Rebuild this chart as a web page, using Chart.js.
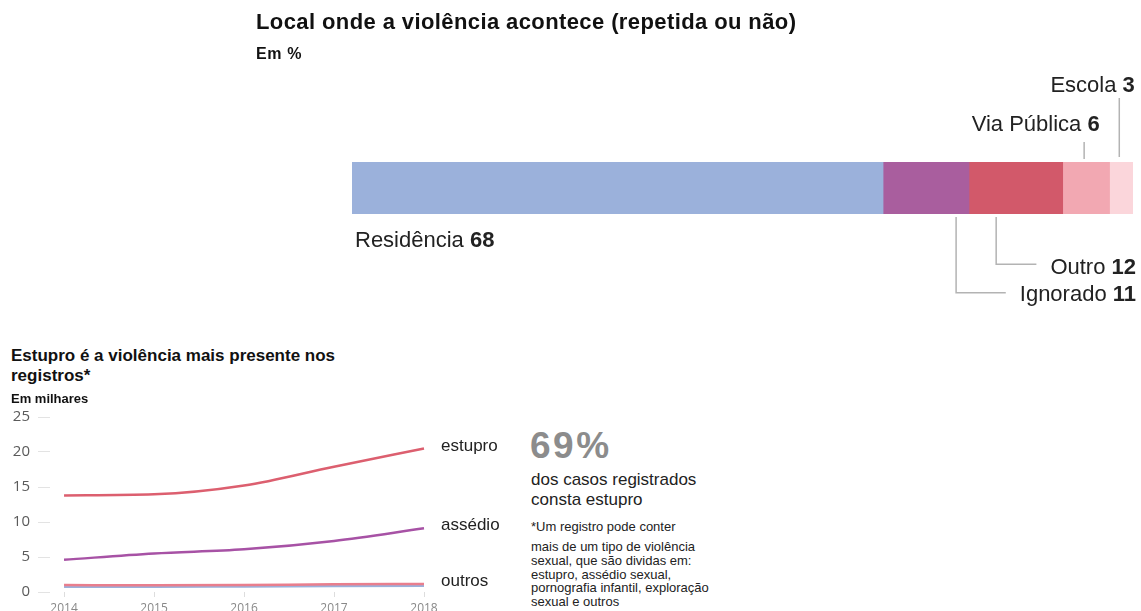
<!DOCTYPE html>
<html lang="pt-BR">
<head>
<meta charset="UTF-8">
<title>Local onde a violência acontece</title>
<style>
  body { margin: 0; width: 1141px; height: 611px; overflow: hidden; background: #fff; position: relative;
         font-family: "Liberation Sans", Arial, sans-serif; color: #222; }
  .txt { position: absolute; white-space: nowrap; }
  #titulo1 { left: 256px; top: 11px; font-size: 22px; line-height: 22px; font-weight: bold; letter-spacing: 0.4px; color: #111; }
  #sub1 { left: 256px; top: 46px; font-size: 16px; line-height: 16px; font-weight: bold; letter-spacing: 0.6px; color: #111; }
  #titulo2 { left: 11px; top: 346px; font-size: 17px; line-height: 20px; font-weight: bold; color: #111; }
  #sub2 { left: 11px; top: 392px; font-size: 13px; line-height: 13px; font-weight: bold; color: #111; }
  #destaque { left: 530px; top: 427px; font-size: 37px; line-height: 37px; font-weight: bold; letter-spacing: 2.5px; color: #8c8c8c; }
  #desc { left: 531px; top: 470px; font-size: 17px; line-height: 20px; }
  #nota1 { left: 531px; top: 520px; font-size: 13px; line-height: 13px; }
  #nota2 { left: 531px; top: 540px; font-size: 13px; line-height: 13.8px; }
  #barraBox { position: absolute; left: 0; top: 0; }
  #linhaBox { position: absolute; left: 0; top: 400px; }
</style>
</head>
<body>
<div id="barraBox"><canvas id="barraChart" width="1141" height="320"></canvas></div>
<div id="linhaBox"><canvas id="linhaChart" width="520" height="240"></canvas></div>

<div class="txt" id="titulo1">Local onde a violência acontece (repetida ou não)</div>
<div class="txt" id="sub1">Em %</div>
<div class="txt" id="titulo2">Estupro é a violência mais presente nos<br>registros*</div>
<div class="txt" id="sub2">Em milhares</div>
<div class="txt" id="destaque">69%</div>
<div class="txt" id="desc">dos casos registrados<br>consta estupro</div>
<div class="txt" id="nota1">*Um registro pode conter</div>
<div class="txt" id="nota2">mais de um tipo de violência<br>sexual, que são dividas em:<br>estupro, assédio sexual,<br>pornografia infantil, exploração<br>sexual e outros</div>

<script src="https://cdn.jsdelivr.net/npm/chart.js"></script>
<script>
  // Local onde a violência acontece (%)
  const locais = ['Residência', 'Ignorado', 'Outro', 'Via Pública', 'Escola'];
  const percentuais = [68, 11, 12, 6, 3];
  const coresLocais = ['#9bb1db', '#a95e9e', '#d2596a', '#f2a8b2', '#fbd6db'];

  // Registros por ano (milhares)
  const anos = [2014, 2015, 2016, 2017, 2018];
  const estupro = [13.8, 13.95, 15.2, 17.9, 20.5];
  const assedio = [4.6, 5.5, 6.1, 7.3, 9.1];
  const outros1 = [1.0, 0.95, 1.0, 1.1, 1.15];
  const outros2 = [0.75, 0.75, 0.8, 0.85, 0.9];
  const rotulosSeries = ['estupro', 'assédio', 'outros', ''];
  const coresSeries = ['#dc5f6f', '#a752a5', '#e97e8d', '#9bb1db'];
  const ticksY = [0, 5, 10, 15, 20, 25];

  Chart.defaults.font.family = '"Liberation Sans", Arial, sans-serif';
  Chart.defaults.animation = false;

  // rótulos e linhas de chamada da barra
  const rotulosBarra = {
    id: 'rotulosBarra',
    afterDatasetsDraw(chart) {
      const ctx = chart.ctx;
      const sx = chart.scales.x;
      const barra = chart.getDatasetMeta(0).data[0];
      const topo = barra.y - barra.height / 2;
      const base = barra.y + barra.height / 2;
      const dir = chart.chartArea.right;
      let acum = 0;
      const seg = percentuais.map(v => {
        const a = sx.getPixelForValue(acum);
        acum += v;
        return [a, sx.getPixelForValue(acum)];
      });

      function texto(i, x, y, alinhar) {
        ctx.font = '22px "Liberation Sans", Arial, sans-serif';
        const nome = locais[i] + ' ';
        const wn = ctx.measureText(nome).width;
        ctx.font = 'bold 22px "Liberation Sans", Arial, sans-serif';
        const val = String(percentuais[i]);
        const wv = ctx.measureText(val).width;
        const x0 = alinhar === 'right' ? x - wn - wv : x;
        ctx.fillStyle = '#222';
        ctx.textAlign = 'left';
        ctx.textBaseline = 'alphabetic';
        ctx.font = '22px "Liberation Sans", Arial, sans-serif';
        ctx.fillText(nome, x0, y);
        ctx.font = 'bold 22px "Liberation Sans", Arial, sans-serif';
        ctx.fillText(val, x0 + wn, y);
        return x0;
      }
      function linha(pts) {
        ctx.beginPath();
        ctx.moveTo(pts[0][0], pts[0][1]);
        for (let k = 1; k < pts.length; k++) ctx.lineTo(pts[k][0], pts[k][1]);
        ctx.stroke();
      }

      ctx.save();
      ctx.strokeStyle = '#b3b3b3';
      ctx.lineWidth = 1.5;

      // Residência
      texto(0, seg[0][0] + 3, base + 32.5, 'left');

      // Ignorado
      let esq = texto(1, dir + 3, base + 86.7, 'right');
      let lx = seg[1][0] + 0.85 * (seg[1][1] - seg[1][0]);
      linha([[lx, base + 3], [lx, base + 78.7], [esq - 14, base + 78.7]]);

      // Outro
      esq = texto(2, dir + 3, base + 60, 'right');
      lx = seg[2][0] + 0.29 * (seg[2][1] - seg[2][0]);
      linha([[lx, base + 3], [lx, base + 50.3], [esq - 14, base + 50.3]]);

      // Via Pública
      lx = (seg[3][0] + seg[3][1]) / 2;
      texto(3, lx + 13.5, topo - 31, 'right');
      linha([[lx - 2, topo - 20], [lx - 2, topo - 3]]);

      // Escola
      lx = (seg[4][0] + seg[4][1]) / 2;
      texto(4, lx + 13.5, topo - 70, 'right');
      linha([[lx - 2, topo - 64], [lx - 2, topo - 5]]);

      ctx.restore();
    }
  };

  new Chart(document.getElementById('barraChart'), {
    type: 'bar',
    data: {
      labels: [''],
      datasets: locais.map((nome, i) => ({
        label: nome,
        data: [percentuais[i]],
        backgroundColor: coresLocais[i],
        borderWidth: 0,
        barPercentage: 1,
        categoryPercentage: 1
      }))
    },
    options: {
      indexAxis: 'y',
      responsive: false,
      layout: { padding: { left: 352, right: 8, top: 162, bottom: 106 } },
      plugins: { legend: { display: false }, tooltip: { enabled: false } },
      scales: {
        x: { display: false, stacked: true, min: 0, max: 100 },
        y: { display: false, stacked: true }
      }
    },
    plugins: [rotulosBarra]
  });

  // nomes das séries no fim das linhas
  const rotulosLinhas = {
    id: 'rotulosLinhas',
    afterDatasetsDraw(chart) {
      const ctx = chart.ctx;
      ctx.save();
      ctx.font = '17px "Liberation Sans", Arial, sans-serif';
      ctx.fillStyle = '#222';
      ctx.textAlign = 'left';
      ctx.textBaseline = 'alphabetic';
      chart.data.datasets.forEach((ds, i) => {
        if (!rotulosSeries[i]) return;
        const pts = chart.getDatasetMeta(i).data;
        const ult = pts[pts.length - 1];
        ctx.fillText(rotulosSeries[i], chart.chartArea.right + 17, ult.y + 2);
      });
      ctx.restore();
    }
  };

  const series = [estupro, assedio, outros1, outros2];

  new Chart(document.getElementById('linhaChart'), {
    type: 'line',
    data: {
      datasets: series.map((valores, i) => ({
        label: rotulosSeries[i] || 'outros',
        data: anos.map((a, k) => ({ x: a, y: valores[k] })),
        borderColor: coresSeries[i],
        borderWidth: 2.5,
        pointRadius: 0,
        fill: false,
        cubicInterpolationMode: 'monotone',
        clip: false
      }))
    },
    options: {
      responsive: false,
      layout: { padding: { left: 0, right: 96, top: 14, bottom: 18 } },
      plugins: { legend: { display: false }, tooltip: { enabled: false } },
      scales: {
        x: {
          type: 'linear',
          min: 2013.844,
          max: 2018,
          afterFit: s => { s.height = 30; },
          border: { display: false },
          grid: { drawOnChartArea: false, tickLength: 5, color: '#dddddd' },
          ticks: {
            stepSize: 1,
            includeBounds: false,
            padding: 4,
            color: '#888',
            font: { family: '"Open Sans", sans-serif', size: 12 },
            callback: v => String(v)
          }
        },
        y: {
          min: 0,
          max: 25,
          afterFit: s => { s.width = 50; },
          afterBuildTicks: s => { s.ticks = ticksY.map(v => ({ value: v })); },
          border: { display: false },
          grid: { drawOnChartArea: false, tickLength: 12, color: '#e3e3e3' },
          ticks: {
            padding: 8,
            color: '#5a5a5a',
            font: { family: '"Open Sans", sans-serif', size: 15 }
          }
        }
      }
    },
    plugins: [rotulosLinhas]
  });
</script>
</body>
</html>
